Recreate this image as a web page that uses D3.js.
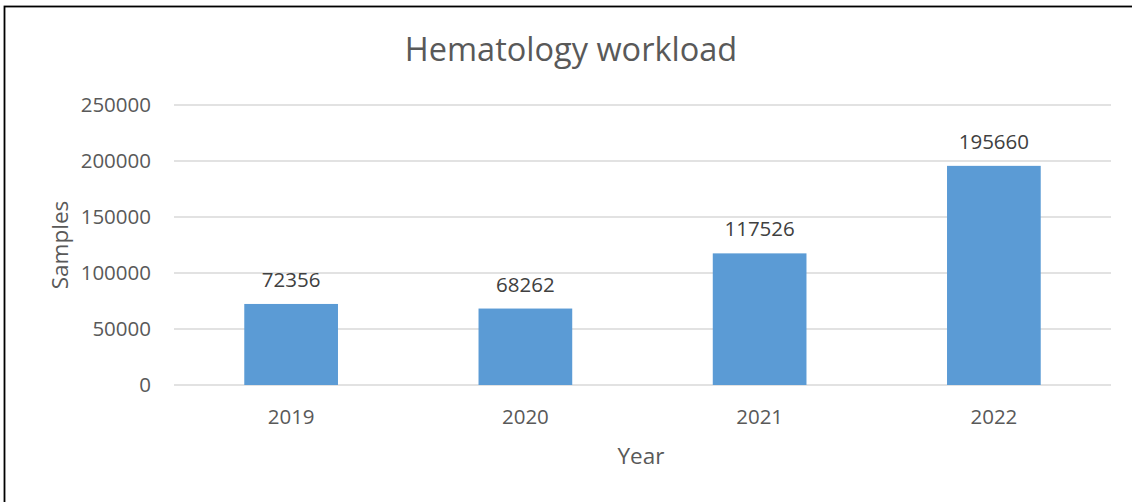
<!DOCTYPE html>
<html>
<head>
<meta charset="utf-8">
<script src="https://d3js.org/d3.v7.min.js"></script>
<style>
  body { margin: 0; background: #fff; }
  text { font-family: "Open Sans", sans-serif; }
</style>
</head>
<body>
<div id="canvas"></div>
<script>
// chart size
var width = 1132,
  height = 502;
var margin = { top: 105, right: 21, bottom: 117, left: 174 };

// data
var years = ["2019", "2020", "2021", "2022"];
var samples = [72356, 68262, 117526, 195660];
var yTicks = [0, 50000, 100000, 150000, 200000, 250000];

var svg = d3
  .select("#canvas")
  .append("svg")
  .attr("width", width)
  .attr("height", height);

// outer frame (only top and left edges are visible in the picture)
svg
  .append("rect")
  .attr("x", 4.5)
  .attr("y", 6.5)
  .attr("width", width + 10)
  .attr("height", height + 10)
  .attr("fill", "none")
  .attr("stroke", "#000")
  .attr("stroke-width", 1.8);

// scales
var x = d3
  .scaleBand()
  .domain(years)
  .range([margin.left, width - margin.right])
  .paddingInner(0.6)
  .paddingOuter(0.3);

var y = d3
  .scaleLinear()
  .domain([0, 250000])
  .range([height - margin.bottom, margin.top]);

// gridlines
svg
  .append("g")
  .selectAll("line")
  .data(yTicks)
  .enter()
  .append("line")
  .attr("x1", margin.left)
  .attr("x2", width - margin.right)
  .attr("y1", (d) => y(d))
  .attr("y2", (d) => y(d))
  .attr("stroke", "#d9d9d9")
  .attr("stroke-width", 1.5);

// y axis labels
var yAxis = d3
  .axisLeft(y)
  .tickValues(yTicks)
  .tickFormat(d3.format("d"))
  .tickSize(0)
  .tickPadding(23);
var gy = svg
  .append("g")
  .attr("transform", "translate(" + margin.left + ",0)")
  .call(yAxis);
gy.select(".domain").remove();
gy.selectAll("text")
  .attr("font-family", "Open Sans")
  .attr("font-size", 20.5)
  .attr("fill", "#595959");

// bars
svg
  .append("g")
  .selectAll("rect")
  .data(samples)
  .enter()
  .append("rect")
  .attr("x", (d, i) => x(years[i]))
  .attr("y", (d) => y(d))
  .attr("width", x.bandwidth())
  .attr("height", (d) => y(0) - y(d))
  .attr("fill", "#5b9bd5");

// value labels
svg
  .append("g")
  .selectAll("text")
  .data(samples)
  .enter()
  .append("text")
  .attr("x", (d, i) => x(years[i]) + x.bandwidth() / 2)
  .attr("y", (d) => y(d) - 17)
  .attr("text-anchor", "middle")
  .attr("font-size", 20.5)
  .attr("fill", "#404040")
  .text((d) => d);

// x axis labels
var xAxis = d3.axisBottom(x).tickSize(0).tickPadding(24);
var gx = svg
  .append("g")
  .attr("transform", "translate(0," + y(0) + ")")
  .call(xAxis);
gx.select(".domain").remove();
gx.selectAll("text")
  .attr("font-family", "Open Sans")
  .attr("font-size", 20.5)
  .attr("fill", "#595959");

// title
svg
  .append("text")
  .attr("x", 571)
  .attr("y", 61)
  .attr("text-anchor", "middle")
  .attr("font-size", 32.5)
  .attr("fill", "#595959")
  .text("Hematology workload");

// axis titles
svg
  .append("text")
  .attr("x", 641)
  .attr("y", 464)
  .attr("text-anchor", "middle")
  .attr("font-size", 22.5)
  .attr("fill", "#595959")
  .text("Year");

svg
  .append("text")
  .attr("transform", "translate(68,245) rotate(-90)")
  .attr("text-anchor", "middle")
  .attr("font-size", 22.5)
  .attr("fill", "#595959")
  .text("Samples");
</script>
</body>
</html>
